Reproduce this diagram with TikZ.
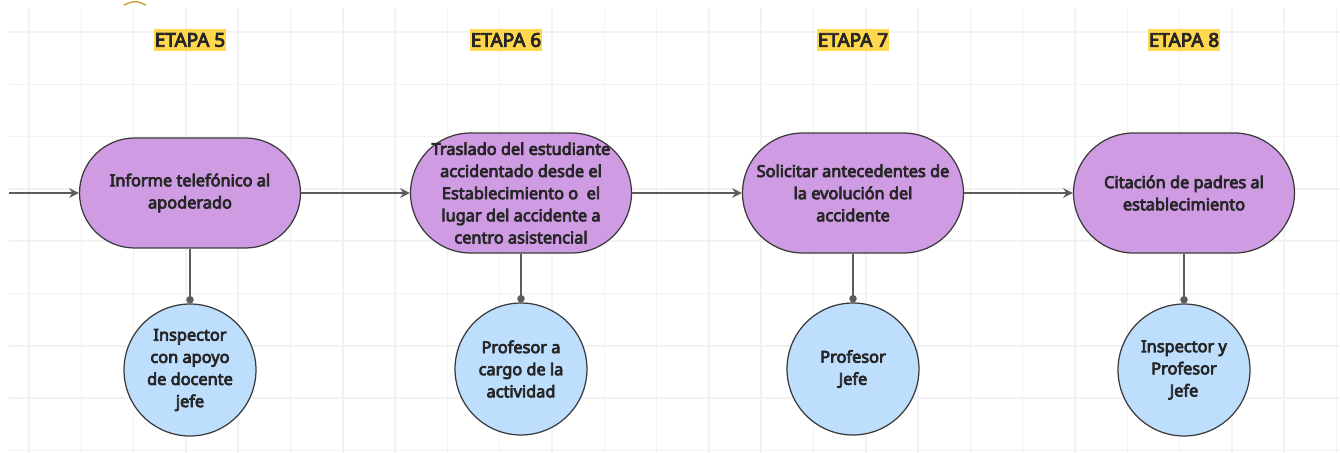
\documentclass[tikz,border=0pt]{standalone}
\usepackage{fontspec}
\setmainfont{Noto Sans}[BoldFont={Noto Sans}, BoldFeatures={FakeBold=4.5}]
\usetikzlibrary{arrows.meta,positioning}
\definecolor{gridgray}{HTML}{F2F2F2}
\definecolor{stagepurple}{HTML}{CF9BE3}
\definecolor{roleblue}{HTML}{BEDEFE}
\definecolor{tagyellow}{HTML}{FFD84E}
\definecolor{inkdark}{HTML}{262626}
\definecolor{edgegray}{HTML}{3A3A3A}
\definecolor{wiregray}{HTML}{5C5C5C}
\definecolor{arcgold}{HTML}{C9A53C}
\newcommand{\shapefont}{\fontsize{9.3}{12.6}\selectfont\bfseries}
\newcommand{\tagfont}{\fontsize{10.8}{12}\selectfont\bfseries}
\tikzset{
  gridline/.style={draw=gridgray, line width=0.85pt},
  stagebox/.style={rectangle, draw=edgegray, line width=0.7pt, fill=stagepurple,
                   rounded corners=1.2cm, minimum width=4.42cm, minimum height=2.4cm,
                   align=center, text=inkdark, font=\shapefont, inner sep=0pt},
  rolebox/.style={circle, draw=edgegray, line width=0.7pt, fill=roleblue,
                  minimum size=2.64cm, align=center, text=inkdark, font=\shapefont, inner sep=0pt},
  etapatag/.style={fill=tagyellow, text=inkdark, font=\tagfont, inner xsep=0.6pt, inner ysep=2.2pt},
  flow/.style={-{Stealth[length=5.5pt,width=5.5pt]}, line width=1.1pt, color=wiregray},
  link/.style={-{Circle[length=4.2pt]}, line width=1.1pt, color=wiregray}}

\begin{document}
\begin{tikzpicture}[x=0.02cm, y=-0.02cm]
    \useasboundingbox (0,0) rectangle (1340,453);
    % background grid
    \foreach \gx in {0,...,25}
      \draw[gridline] ({29+52.3*\gx},8) -- ({29+52.3*\gx},453);
    \foreach \gy in {0,...,8}
      \draw[gridline] (9,{32+52.3*\gy}) -- (1340,{32+52.3*\gy});
    \draw[arcgold, line width=0.8pt, rounded corners=3pt] (124,5) -- (135,0.6) -- (146,5);

    % stage titles
    \node[etapatag] (tag5) at (190,40) {ETAPA 5};
    \node[etapatag] (tag6) at (506,40) {ETAPA 6};
    \node[etapatag] (tag7) at (853,40) {ETAPA 7};
    \node[etapatag] (tag8) at (1184,40) {ETAPA 8};

    % stages
    \node[stagebox, minimum height=2.2cm, rounded corners=1.1cm] (stage5) at (190,193)
      {Informe telefónico al\\ apoderado};
    \node[stagebox] (stage6) at (521,193)
      {Traslado del estudiante\\ accidentado desde el\\ Establecimiento o\ \ el\\
       lugar del accidente a\\ centro asistencial};
    \node[stagebox] (stage7) at (853,193)
      {Solicitar antecedentes de\\ la evolución del\\ accidente};
    \node[stagebox] (stage8) at (1184,193)
      {Citación de padres al\\ establecimiento};

    % people in charge
    \node[rolebox] (role5) at (190,370) {Inspector\\ con apoyo\\ de docente\\ jefe};
    \node[rolebox] (role6) at (521,369) {Profesor a\\ cargo de la\\ actividad};
    \node[rolebox] (role7) at (853,369) {Profesor\\ Jefe};
    \node[rolebox] (role8) at (1184,370) {Inspector y\\ Profesor\\ Jefe};

    \coordinate (entry) at (9,193);
    \draw[flow] (entry) -- (stage5.west);
    \draw[flow] (stage5.east) -- (stage6.west);
    \draw[flow] (stage6.east) -- (stage7.west);
    \draw[flow] (stage7.east) -- (stage8.west);
    \foreach \k in {5,6,7,8}
      \draw[link] (stage\k.south) -- (role\k.north);
  \end{tikzpicture}
\end{document}
